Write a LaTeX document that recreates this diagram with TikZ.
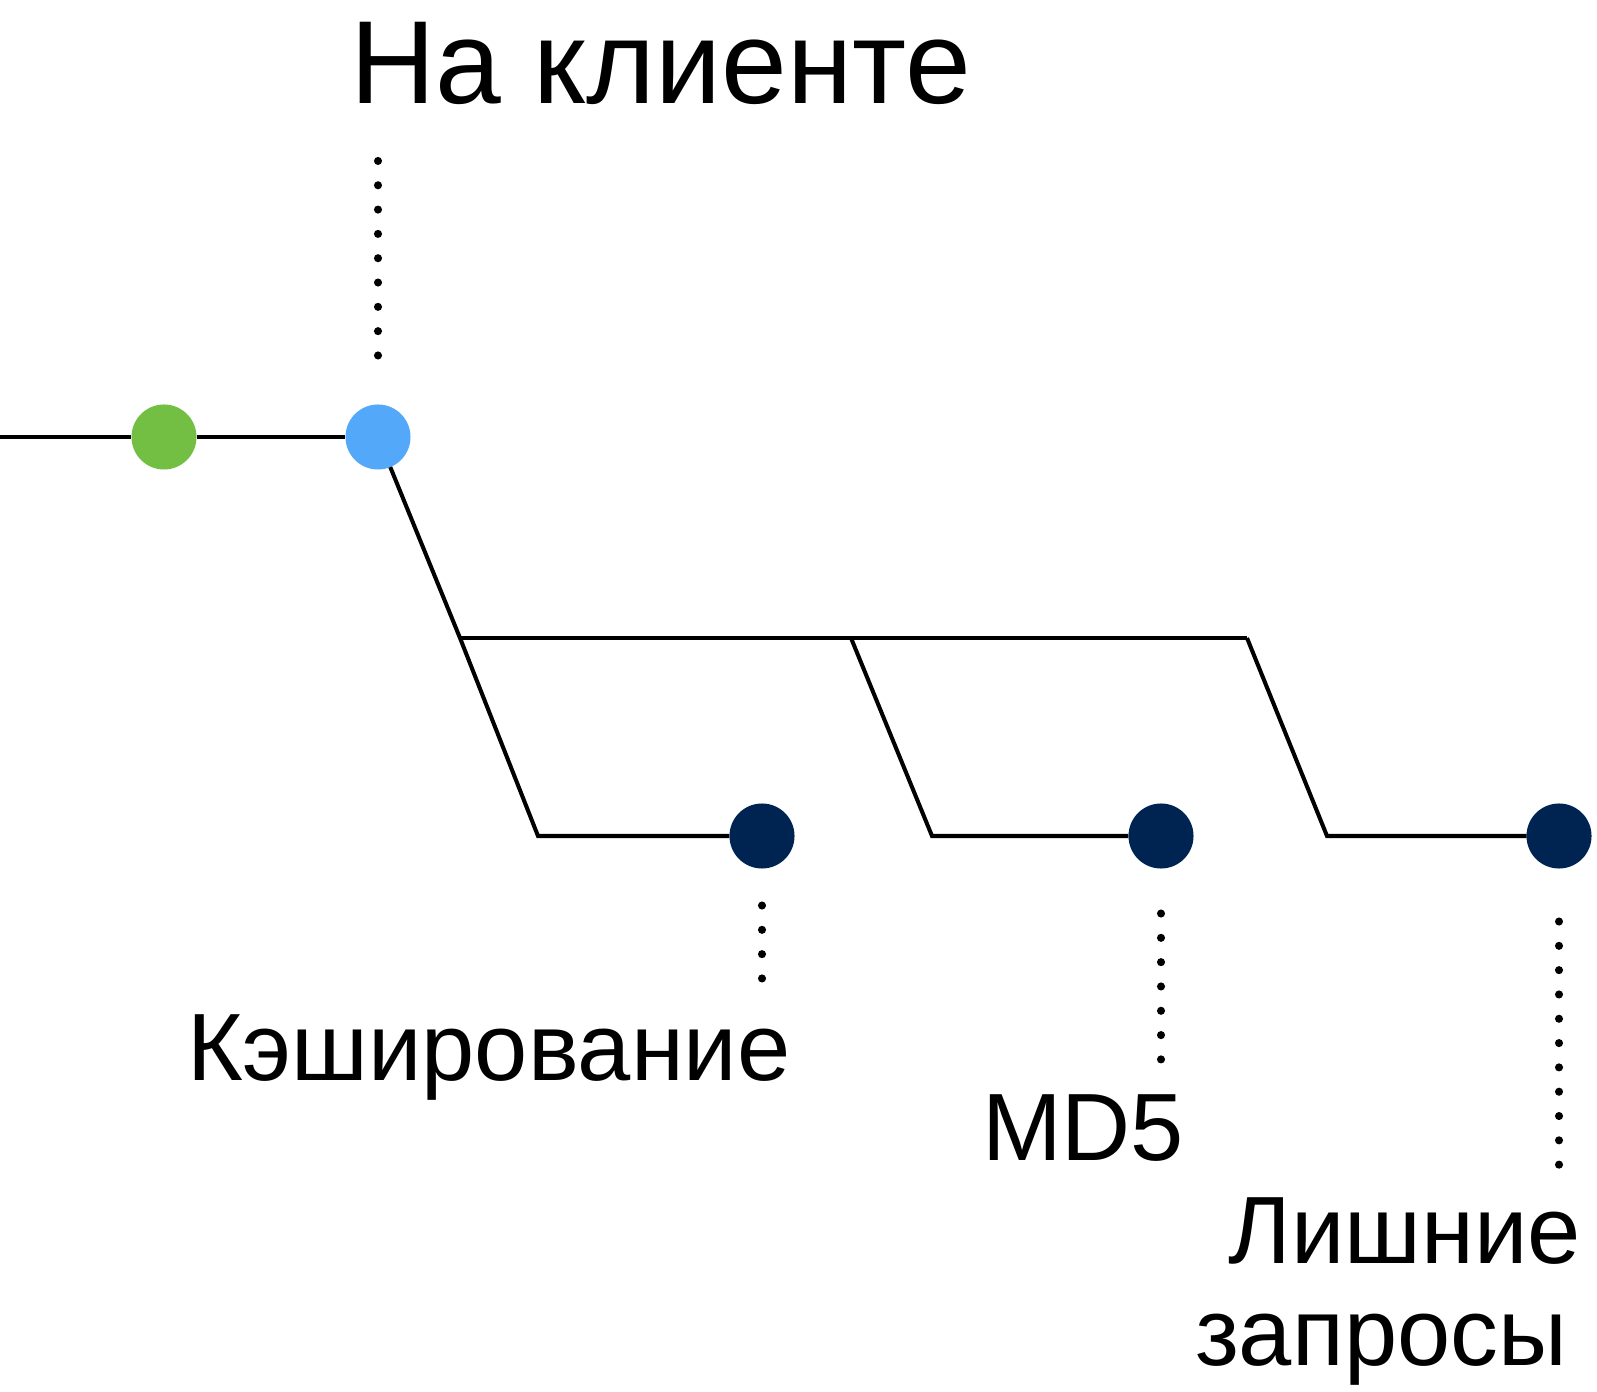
\documentclass[tikz,border=0pt]{standalone}
\usepackage{fontspec}
\setmainfont{Liberation Sans}
\definecolor{stepGreen}{RGB}{114,191,68}
\definecolor{clientBlue}{RGB}{84,168,250}
\definecolor{taskNavy}{RGB}{0,36,82}

\begin{document}
\begin{tikzpicture}[x=0.01cm, y=-0.01cm, line width=1.15pt,
    milestone/.style={circle, inner sep=0pt, outer sep=0pt, minimum size=0.65cm},
    leader/.style={line width=2.3pt, line cap=round, dash pattern=on 0pt off 0.243cm},
    title/.style={font=\fontsize{33.6}{38}\selectfont, inner sep=0pt},
    tag/.style={font=\fontsize{27.2}{29}\selectfont, inner sep=0pt}]
  \useasboundingbox (0,0) rectangle (1597,1392);

  % Main line
  \coordinate (start) at (0,437);
  \node[milestone, fill=stepGreen] (prev) at (164,437) {};
  \node[milestone, fill=clientBlue] (client) at (378,437) {};
  \draw (start) -- (prev) -- (client);

  % Branch points
  \coordinate (split1) at (460,638);
  \coordinate (split2) at (851,638);
  \coordinate (split3) at (1247,638);
  \coordinate (bend1) at (538,836);
  \coordinate (bend2) at (932,836);
  \coordinate (bend3) at (1327,836);

  % Tasks
  \node[milestone, fill=taskNavy] (cache) at (762,836) {};
  \node[milestone, fill=taskNavy] (md5) at (1161,836) {};
  \node[milestone, fill=taskNavy] (extra) at (1559,836) {};

  \draw (client) -- (split1) -- (bend1) -- (cache);
  \draw (split1) -- (split2) -- (split3);
  \draw (split2) -- (bend2) -- (md5);
  \draw (split3) -- (bend3) -- (extra);

  % Labels and leaders
  \node[title, anchor=base west] (clientlbl) at (348,104) {На клиенте};
  \draw[leader] (client.north) ++(0,-49) -- ++(0,-195);

  \node[tag, anchor=base west] (cachelbl) at (185,1080) {Кэширование};
  \draw[leader] (cache.south) ++(0,37) -- ++(0,74);

  \node[tag, anchor=base west] (md5lbl) at (980,1160) {MD5};
  \draw[leader] (md5.south) ++(0,45) -- ++(0,146);

  \node[tag, anchor=base east, align=right] (extralbl) at (1583,1365) {Лишние\\запросы\hspace*{0.14cm}};
  \draw[leader] (extra.south) ++(0,53) -- ++(0,244);
\end{tikzpicture}
\end{document}
